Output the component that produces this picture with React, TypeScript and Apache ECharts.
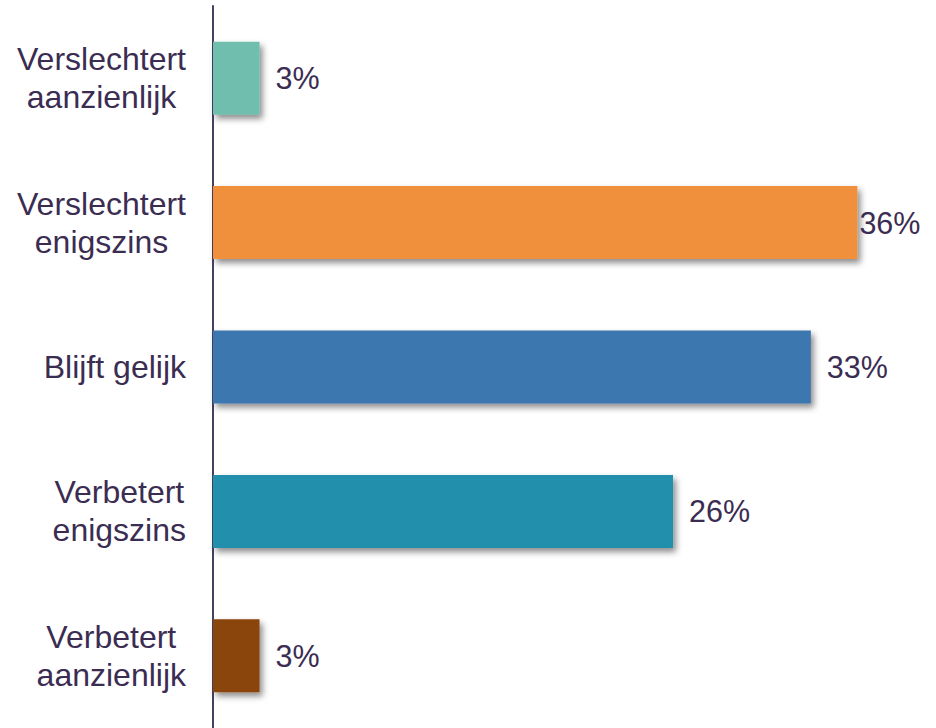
import React, { useEffect, useRef } from "react";
import * as echarts from "echarts";

const categories = [
  ["Verslechtert", "aanzienlijk"],
  ["Verslechtert", "enigszins"],
  ["Blijft gelijk"],
  ["Verbetert", "enigszins"],
  ["Verbetert", "aanzienlijk"],
];
const values = [2.6, 36.0, 33.4, 25.7, 2.6];
const colors = ["#6fbead", "#f0903c", "#3c77b0", "#2190ac", "#8a4510"];
const labelDistances = [16, 2, 16, 16, 16];

const TEXT = "#3b2d52";
const FONT = "'Liberation Sans', Arial, sans-serif";

export default function App() {
  const ref = useRef<HTMLDivElement>(null);
  useEffect(() => {
    if (!ref.current) return;
    const chart = echarts.init(ref.current, undefined, { renderer: "svg" });
    const catNames = categories.map((c) => c.join("\n"));
    chart.setOption({
      animation: false,
      grid: { left: 213, right: 7, top: 6, bottom: 0, containLabel: false },
      xAxis: { type: "value", min: 0, max: 40, show: false },
      yAxis: {
        type: "category",
        inverse: true,
        data: catNames,
        axisLine: { show: true, lineStyle: { color: "#4a3e64", width: 2 } },
        axisTick: { show: false },
        splitLine: { show: false },
        axisLabel: {
          margin: 27,
          align: "right",
          formatter: (v: string) => v.split("\n").map((l) => `{c|${l}}`).join("\n"),
          rich: {
            c: {
              align: "center",
              fontSize: 32,
              fontFamily: FONT,
              color: TEXT,
              lineHeight: 38,
            },
          },
        },
      },
      series: [
        {
          type: "bar",
          barWidth: 73,
          data: values.map((v, i) => ({
            value: v,
            itemStyle: {
              color: colors[i],
              shadowBlur: 6,
              shadowOffsetX: 3,
              shadowOffsetY: 4,
              shadowColor: "rgba(0,0,0,0.45)",
            },
            label: { distance: labelDistances[i] },
          })),
          label: {
            show: true,
            position: "right",
            fontSize: 30.5,
            fontFamily: FONT,
            color: TEXT,
            formatter: (p: any) => `${Math.round(p.value)}%`,
          },
        },
      ],
    });
    return () => chart.dispose();
  }, []);
  return (
    <div
      ref={ref}
      style={{ position: "fixed", left: 0, top: 0, width: 936, height: 728, background: "#fff" }}
    />
  );
}
